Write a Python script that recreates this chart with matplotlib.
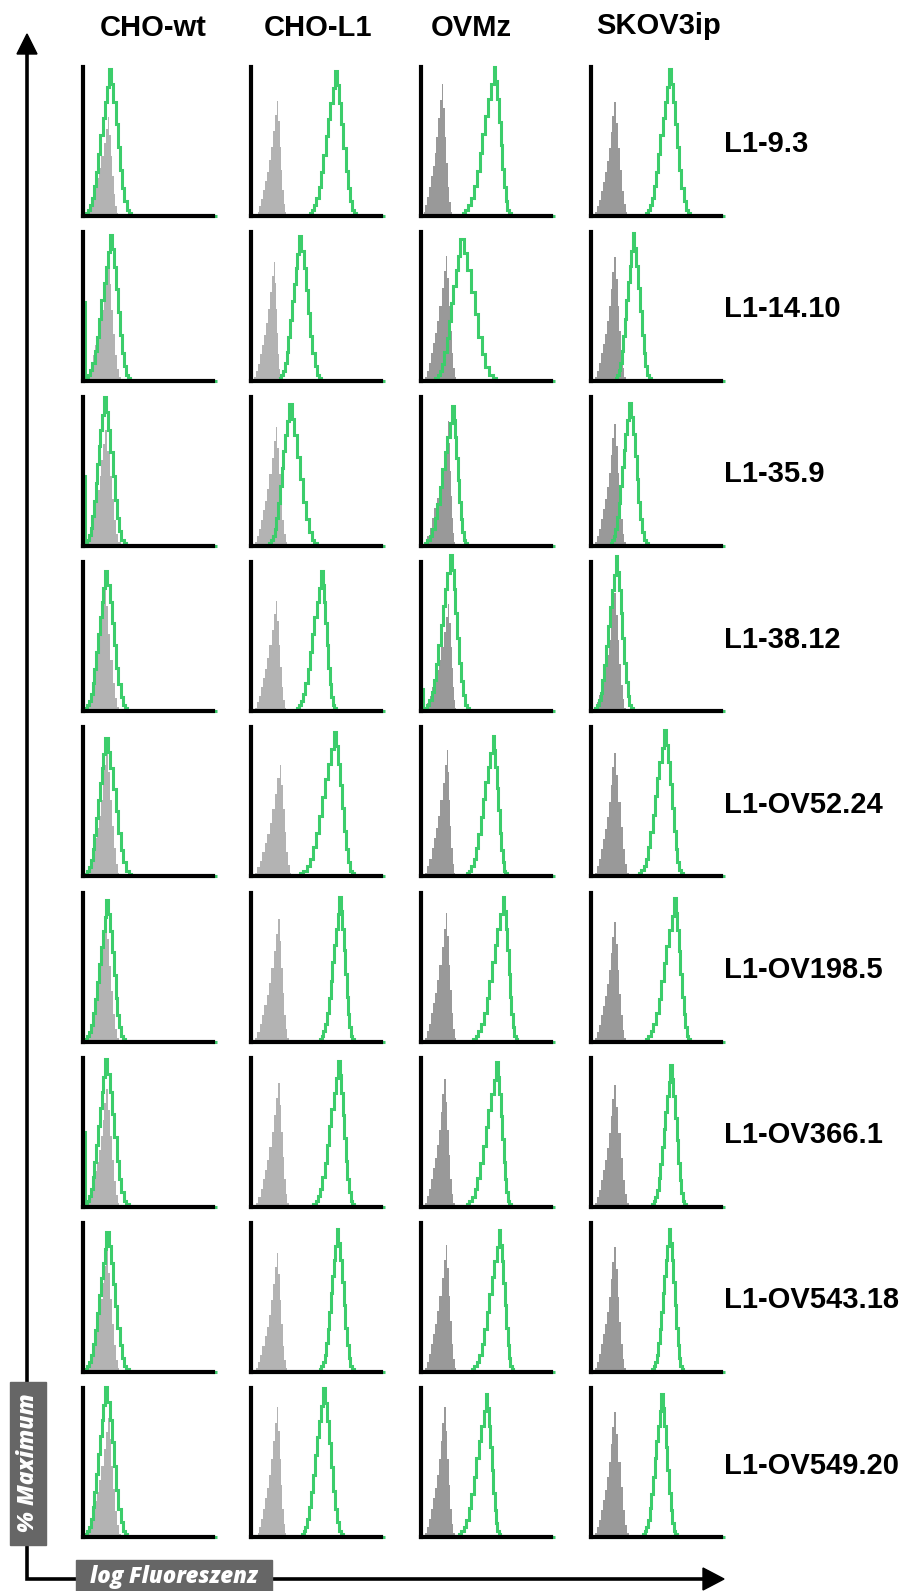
import numpy as np
import matplotlib
matplotlib.use("Agg")
import matplotlib.pyplot as plt
from matplotlib.patches import Rectangle, Polygon

# ---------------------------------------------------------------------------
# Labels
cell_lines = ["CHO-wt", "CHO-L1", "OVMz", "SKOV3ip"]
antibodies = ["L1-9.3", "L1-14.10", "L1-35.9", "L1-38.12", "L1-OV52.24",
              "L1-OV198.5", "L1-OV366.1", "L1-OV543.18", "L1-OV549.20"]

# Histogram profiles (relative counts per channel, left foot -> peak -> right foot)
isotype_shape = [0.03, 0.08, 0.14, 0.22, 0.30, 0.38, 0.48, 0.60, 0.74, 0.88,
                 1.00, 0.82, 0.60, 0.40, 0.22, 0.10, 0.03]
isotype_peak_idx = 10
stain_shape = [0.02, 0.04, 0.07, 0.12, 0.20, 0.30, 0.42, 0.55, 0.67, 0.78, 0.88,
               1.00, 0.90, 0.78, 0.63, 0.47, 0.31, 0.19, 0.10, 0.04, 0.02]
stain_peak_idx = 11

# Isotype control (grey): left foot, peak, right foot (log-fluorescence, 0..1), % max
iso_lo = [[.03, .05, .02, .03], [.03, .02, .03, .03], [.03, .03, .03, .03],
          [.03, .03, .03, .03], [.03, .03, .03, .03], [.03, .03, .03, .03],
          [.03, .04, .03, .03], [.03, .04, .03, .03], [.03, .05, .03, .03]]
iso_pk = [[.19, .20, .16, .18], [.19, .18, .19, .18], [.17, .19, .21, .18],
          [.16, .19, .21, .18], [.18, .22, .20, .18], [.17, .21, .19, .18],
          [.18, .21, .18, .18], [.18, .20, .19, .18], [.19, .20, .18, .18]]
iso_hi = [[.27, .27, .24, .28], [.29, .23, .27, .27], [.29, .28, .26, .27],
          [.28, .27, .27, .27], [.28, .31, .26, .29], [.28, .29, .27, .27],
          [.28, .29, .26, .29], [.28, .28, .27, .27], [.29, .27, .26, .29]]
iso_max = [[.66, .77, .88, .76], [.79, .80, .84, .83], [.78, .80, .84, .82],
           [.86, .74, .72, .79], [.85, .75, .85, .83], [.84, .82, .86, .80],
           [.79, .83, .86, .82], [.81, .80, .85, .84], [.80, .87, .87, .84]]

# Anti-L1 staining (green): left foot, peak, right foot, % max
mab_lo = [[.02, .45, .32, .42], [.02, .22, .11, .19], [.02, .14, .03, .15],
          [.02, .35, .03, .03], [.02, .38, .35, .37], [.02, .53, .40, .42],
          [.02, .48, .35, .47], [.02, .53, .39, .47], [.02, .39, .29, .40]]
mab_pk = [[.20, .645, .56, .60], [.21, .37, .30, .32], [.16, .29, .24, .29],
          [.17, .54, .22, .19], [.17, .64, .55, .56], [.18, .68, .63, .64],
          [.17, .67, .58, .61], [.18, .66, .60, .60], [.17, .55, .50, .54]]
mab_hi = [[.37, .81, .69, .76], [.36, .54, .58, .46], [.33, .51, .35, .44],
          [.34, .65, .37, .32], [.37, .79, .66, .71], [.32, .79, .74, .76],
          [.35, .79, .69, .73], [.35, .79, .71, .71], [.34, .71, .61, .66]]
mab_max = [[.98, .97, 1.00, .98], [.98, .97, .95, .99], [1.00, .95, .94, .96],
           [.94, .94, 1.05, 1.04], [.93, .97, .94, .98], [.95, .97, .97, .96],
           [.99, .98, .97, .95], [.94, .96, .95, .96], [1.01, 1.00, .96, .96]]
# counts piled up in the lowest channel
mab_first_channel = [[0, 0, 0, 0], [.53, 0, 0, 0], [.47, 0, 0, 0],
                     [0, 0, .15, 0], [0, 0, 0, 0], [0, 0, 0, 0],
                     [.50, 0, 0, 0], [0, 0, 0, 0], [0, 0, 0, 0]]

# ---------------------------------------------------------------------------
W, H = 905, 1591
fig = plt.figure(figsize=(W / 100, H / 100), dpi=100)

GREEN = "#3ccd6b"
GREY_CHO = "#b3b3b3"
GREY_OV = "#999999"
col_left = [83, 251, 421, 591]
panel_w, panel_h = 130, 149
row_top0, row_pitch = 66.5, 165.2
header_x = [153, 318, 471, 659]
header_base = [36, 36, 36, 34]


def channel_edges(lo, pk, hi, n_bins, peak_idx):
    left = np.linspace(lo, pk, peak_idx + 1)
    right = np.linspace(pk, hi, n_bins - peak_idx + 1)[1:]
    return np.concatenate([left, right])


def to_fig(x, y, w, h):
    return [x / W, 1 - (y + h) / H, w / W, h / H]


for r in range(len(antibodies)):
    top = row_top0 + r * row_pitch
    for c in range(len(cell_lines)):
        ax = fig.add_axes(to_fig(col_left[c], top, panel_w, panel_h))
        ax.set_xlim(0, 1)
        ax.set_ylim(0, 1)
        for s in ("top", "right"):
            ax.spines[s].set_visible(False)
        for s in ("left", "bottom"):
            ax.spines[s].set_linewidth(3.0)
            ax.spines[s].set_color("black")
            ax.spines[s].set_zorder(5)
        ax.set_xticks([])
        ax.set_yticks([])
        ax.patch.set_alpha(0)

        # isotype control (filled)
        e = channel_edges(iso_lo[r][c], iso_pk[r][c], iso_hi[r][c],
                          len(isotype_shape), isotype_peak_idx)
        v = np.array(isotype_shape) * iso_max[r][c]
        ax.stairs(v, e, fill=True, color=GREY_CHO if c < 2 else GREY_OV,
                  linewidth=0, zorder=2)

        # anti-L1 staining (outline), running along the full channel range
        e2 = channel_edges(mab_lo[r][c], mab_pk[r][c], mab_hi[r][c],
                           len(stain_shape), stain_peak_idx)
        v2 = np.array(stain_shape) * mab_max[r][c]
        edges = np.concatenate([[0.0, 0.012], e2, [1.03]])
        vals = np.concatenate([[mab_first_channel[r][c], 0.0], v2, [0.0]])
        ax.stairs(vals, edges, fill=False, color=GREEN, linewidth=2.2,
                  baseline=None, zorder=3, clip_on=False)

    # antibody label
    ycen = top + panel_h / 2
    fig.text(724 / W, 1 - (ycen + 11) / H, antibodies[r], ha="left",
             va="baseline", fontsize=21, fontweight="bold",
             family="Liberation Sans")

for c, name in enumerate(cell_lines):
    fig.text(header_x[c] / W, 1 - header_base[c] / H, name, ha="center",
             va="baseline", fontsize=21, fontweight="bold",
             family="Liberation Sans")

# ---------------------------------------------------------------------------
# Axis arrows and boxed axis titles
ov = fig.add_axes([0, 0, 1, 1], zorder=-1)
ov.set_xlim(0, W)
ov.set_ylim(H, 0)
ov.axis("off")

ax_x, ax_y = 27, 1579
ov.plot([ax_x, ax_x, 705], [52, ax_y, ax_y], color="black", lw=2.6,
        solid_joinstyle="miter", zorder=1)
ov.add_patch(Polygon([[ax_x - 10, 54], [ax_x + 10, 54], [ax_x, 34]],
                     closed=True, color="black", zorder=2))
ov.add_patch(Polygon([[703, ax_y - 11], [703, ax_y + 11], [724, ax_y]],
                     closed=True, color="black", zorder=2))

ov.add_patch(Rectangle((10, 1382), 36, 163, color="#666666", zorder=3))
ov.text(28, 1463, "% Maximum", rotation=90, ha="center", va="center",
        color="white", fontsize=16.5, fontweight="heavy", fontstyle="italic",
        family="Open Sans", zorder=4)
ov.add_patch(Rectangle((76, 1560), 196, 40, color="#666666", zorder=3))
ov.text(174, 1577, "log Fluoreszenz", ha="center", va="center",
        color="white", fontsize=16, fontweight="heavy", fontstyle="italic",
        family="Open Sans", zorder=4)

fig.savefig("out.png", dpi=100)
